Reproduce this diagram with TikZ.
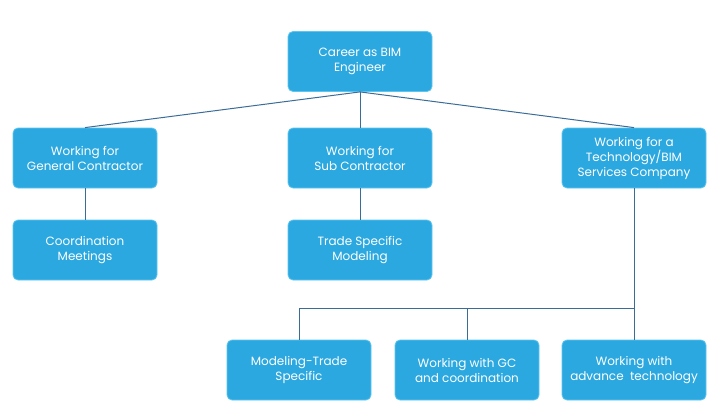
\documentclass[tikz,border=0pt]{standalone}
\usepackage{fontspec}
\setmainfont{Poppins}
\definecolor{boxfill}{HTML}{2BA8E0}
\definecolor{boxedge}{HTML}{5CC6F0}
\definecolor{linkc}{HTML}{3A6C98}
\begin{document}
\begin{tikzpicture}[x=1pt,y=-1pt,
  card/.style={draw=boxedge, line width=0.8pt, fill=boxfill, rounded corners=5pt,
    minimum width=144pt, minimum height=60pt, align=center, text=white,
    font=\fontsize{12}{15}\selectfont, inner sep=2pt},
  link/.style={draw=linkc, line width=1pt}]
\useasboundingbox (0,0) rectangle (720,420);
\node[card] (top) at (360,61.5) {Career as BIM\\Engineer};
\node[card] (gc) at (85,158) {Working for\\General Contractor};
\node[card] (sub) at (360,158) {Working for\\Sub Contractor};
\node[card] (tech) at (634,158) {Working for a\\Technology/BIM\\Services Company};
\node[card] (coord) at (85,250) {Coordination\\Meetings};
\node[card] (trade) at (360,250) {Trade Specific\\Modeling};
\node[card] (mod) at (299,370) {Modeling-Trade\\Specific};
\node[card] (wgc) at (467,370) {Working with GC\\and coordination};
\node[card] (adv) at (634,370) {Working with\\advance\ \ technology};
\coordinate (bus) at (634,308);
\draw[link] (top.south) -- (gc.north);
\draw[link] (top.south) -- (tech.north);
\draw[link] (top.south) -- (sub.north);
\draw[link] (gc.south) -- (coord.north);
\draw[link] (sub.south) -- (trade.north);
\draw[link] (tech.south) -- (adv.north);
\draw[link] (bus) -| (mod.north);
\draw[link] (bus -| wgc.north) -- (wgc.north);
\end{tikzpicture}
\end{document}
